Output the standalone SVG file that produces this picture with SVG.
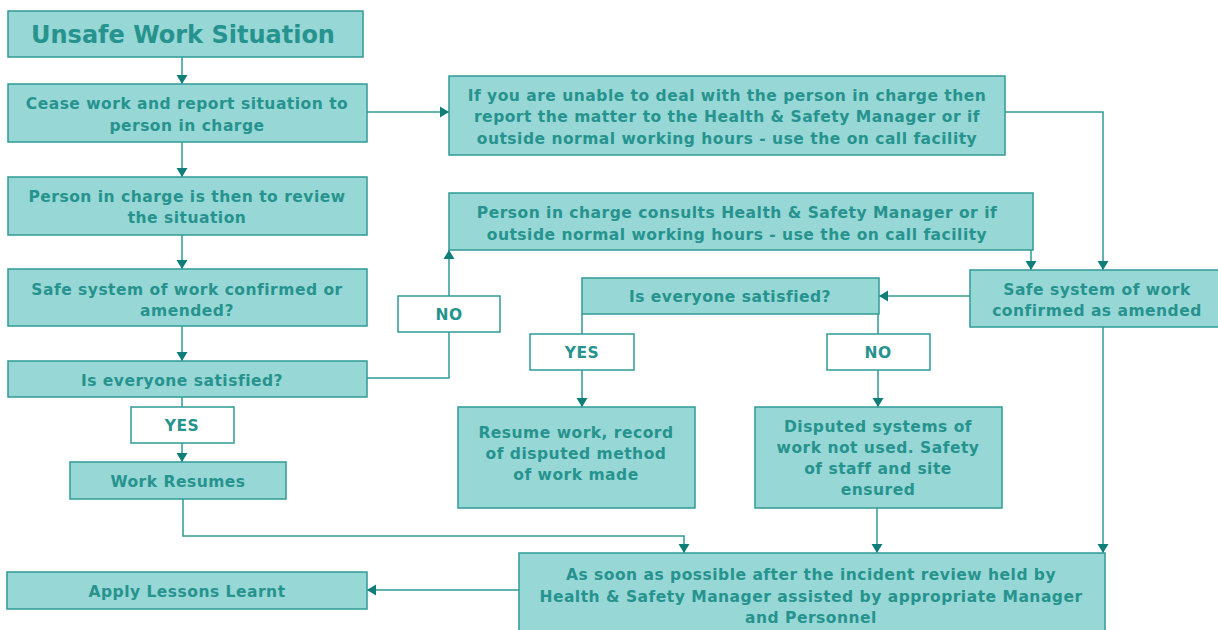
<svg xmlns="http://www.w3.org/2000/svg" width="1218" height="630" viewBox="0 0 1218 630">
<defs>
<style>
.box{fill:#97D7D5;stroke:#2F9B96;stroke-width:1.5}
.lbl{fill:#FFFFFF;stroke:#2F9B96;stroke-width:1.5}
.t{font-family:"DejaVu Sans",Verdana,sans-serif;font-weight:bold;font-size:15.5px;letter-spacing:0.5px;fill:#26938E;text-anchor:middle}
.big{font-size:24px;letter-spacing:0}
.c{fill:none;stroke:#2F9B96;stroke-width:1.5}
</style>
<marker id="ah" markerUnits="userSpaceOnUse" markerWidth="12" markerHeight="12" viewBox="0 0 12 12" refX="11" refY="6" orient="auto">
<path d="M2,0.5 L11,6 L2,11.5 Z" fill="#0F7E79"/>
</marker>
</defs>
<rect width="1218" height="630" fill="#FFFFFF"/>

<g id="connectors">
<path class="c" d="M182,57 V84" marker-end="url(#ah)"/>
<path class="c" d="M367,112 H449" marker-end="url(#ah)"/>
<path class="c" d="M182,142 V177" marker-end="url(#ah)"/>
<path class="c" d="M182,235 V269" marker-end="url(#ah)"/>
<path class="c" d="M182,326 V361" marker-end="url(#ah)"/>
<path class="c" d="M182,397 V462" marker-end="url(#ah)"/>
<path class="c" d="M367,378 H449 V250" marker-end="url(#ah)"/>
<path class="c" d="M1005,112 H1103 V270" marker-end="url(#ah)"/>
<path class="c" d="M1031,250 V270" marker-end="url(#ah)"/>
<path class="c" d="M970,296 H879" marker-end="url(#ah)"/>
<path class="c" d="M582,314 V407" marker-end="url(#ah)"/>
<path class="c" d="M878,314 V407" marker-end="url(#ah)"/>
<path class="c" d="M877,508 V553" marker-end="url(#ah)"/>
<path class="c" d="M1103,327 V553" marker-end="url(#ah)"/>
<path class="c" d="M183,499 V536 H684 V553" marker-end="url(#ah)"/>
<path class="c" d="M519,590 H367" marker-end="url(#ah)"/>
</g>

<g id="n-unsafe">
<rect class="box" x="8" y="11" width="355" height="46"/>
<text class="t big" x="183" y="43">Unsafe Work Situation</text>
</g>
<g id="n-cease">
<rect class="box" x="8" y="84" width="359" height="58"/>
<text class="t" x="187" y="109">Cease work and report situation to</text>
<text class="t" x="187" y="131">person in charge</text>
</g>
<g id="n-review">
<rect class="box" x="8" y="177" width="359" height="58"/>
<text class="t" x="187" y="202">Person in charge is then to review</text>
<text class="t" x="187" y="223">the situation</text>
</g>
<g id="n-confirmed">
<rect class="box" x="8" y="269" width="359" height="57"/>
<text class="t" x="187" y="295">Safe system of work confirmed or</text>
<text class="t" x="187" y="316">amended?</text>
</g>
<g id="n-satisfied1">
<rect class="box" x="8" y="361" width="359" height="36"/>
<text class="t" x="182" y="386">Is everyone satisfied?</text>
</g>
<g id="l-yes1">
<rect class="lbl" x="131" y="407" width="103" height="36"/>
<text class="t" x="182" y="431">YES</text>
</g>
<g id="n-resumes">
<rect class="box" x="70" y="462" width="216" height="37"/>
<text class="t" x="178" y="487">Work Resumes</text>
</g>
<g id="l-no1">
<rect class="lbl" x="398" y="296" width="102" height="36"/>
<text class="t" x="449" y="320">NO</text>
</g>
<g id="n-unable">
<rect class="box" x="449" y="76" width="556" height="79"/>
<text class="t" x="727" y="101">If you are unable to deal with the person in charge then</text>
<text class="t" x="727" y="122">report the matter to the Health &amp; Safety Manager or if</text>
<text class="t" x="727" y="144">outside normal working hours - use the on call facility</text>
</g>
<g id="n-consults">
<rect class="box" x="449" y="193" width="584" height="57"/>
<text class="t" x="737" y="218">Person in charge consults Health &amp; Safety Manager or if</text>
<text class="t" x="737" y="240">outside normal working hours - use the on call facility</text>
</g>
<g id="n-amended">
<rect class="box" x="970" y="270" width="252" height="57"/>
<text class="t" x="1097" y="295">Safe system of work</text>
<text class="t" x="1097" y="316">confirmed as amended</text>
</g>
<g id="n-satisfied2">
<rect class="box" x="582" y="278" width="297" height="36"/>
<text class="t" x="730" y="302">Is everyone satisfied?</text>
</g>
<g id="l-yes2">
<rect class="lbl" x="530" y="334" width="104" height="36"/>
<text class="t" x="582" y="358">YES</text>
</g>
<g id="l-no2">
<rect class="lbl" x="827" y="334" width="103" height="36"/>
<text class="t" x="878" y="358">NO</text>
</g>
<g id="n-record">
<rect class="box" x="458" y="407" width="237" height="101"/>
<text class="t" x="576" y="438">Resume work, record</text>
<text class="t" x="576" y="459">of disputed method</text>
<text class="t" x="576" y="480">of work made</text>
</g>
<g id="n-disputed">
<rect class="box" x="755" y="407" width="247" height="101"/>
<text class="t" x="878" y="432">Disputed systems of</text>
<text class="t" x="878" y="453">work not used. Safety</text>
<text class="t" x="878" y="474">of staff and site</text>
<text class="t" x="878" y="495">ensured</text>
</g>
<g id="n-review-held">
<rect class="box" x="519" y="553" width="586" height="82"/>
<text class="t" x="811" y="580">As soon as possible after the incident review held by</text>
<text class="t" x="811" y="602">Health &amp; Safety Manager assisted by appropriate Manager</text>
<text class="t" x="811" y="623">and Personnel</text>
</g>
<g id="n-lessons">
<rect class="box" x="7" y="572" width="360" height="37"/>
<text class="t" x="187" y="597">Apply Lessons Learnt</text>
</g>
</svg>
